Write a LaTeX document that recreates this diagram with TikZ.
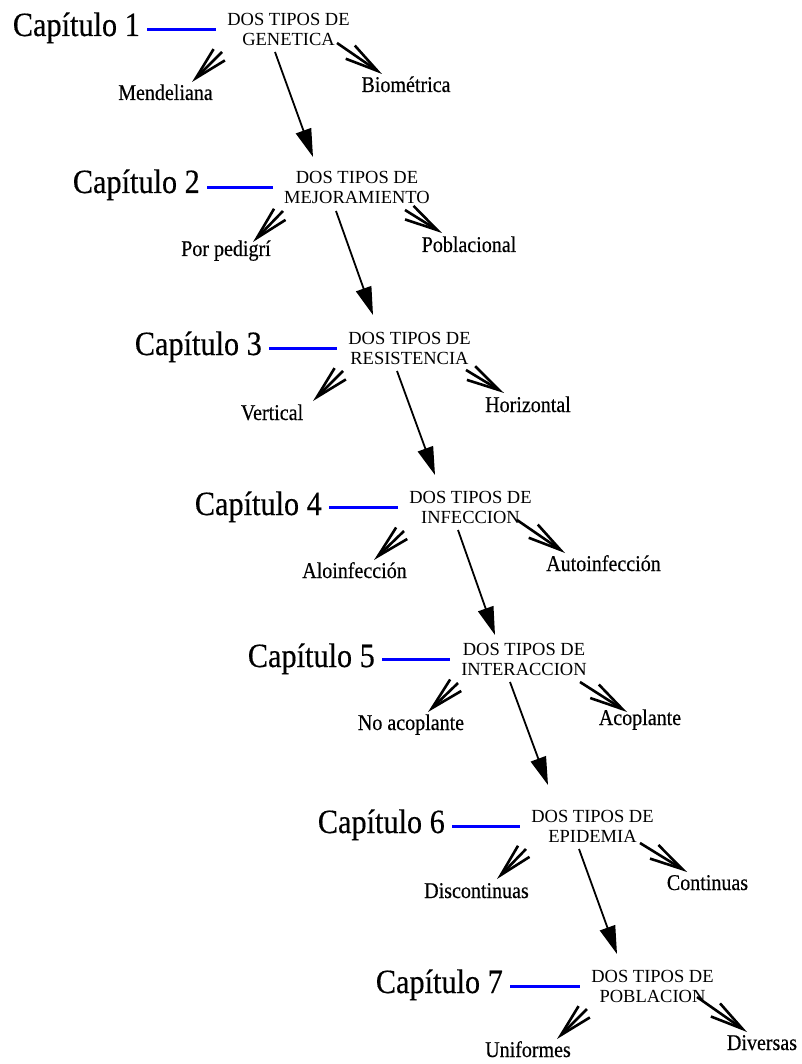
\documentclass[tikz,border=0pt]{standalone}
\usepackage{fontspec}
\setmainfont{Liberation Serif}
\newfontfamily\narrowserif[FakeStretch=0.89,FakeBold=0.4]{Liberation Serif}
\usetikzlibrary{arrows.meta}

\tikzset{
  chapter/.style={font=\narrowserif\fontsize{34}{40}\selectfont, inner sep=0pt, anchor=base east},
  topic/.style={font=\fontsize{18.5}{20.5}\selectfont, align=center, inner sep=0pt},
  kind/.style={font=\narrowserif\fontsize{22.5}{26}\selectfont, inner sep=0pt, anchor=base},
  chapline/.style={draw=blue, line width=2.5pt, shorten <=7pt, shorten >=11pt},
  nextlink/.style={line width=1.8pt, -{Triangle[length=28pt,width=16pt]}},
  branch/.style={line width=2.6pt, -{Straight Barb[length=33pt,width=16pt]}},
}

\begin{document}
\begin{tikzpicture}[x=1pt, y=-1pt]
\useasboundingbox (0,0) rectangle (801,1064);

% chapter 1
\node[chapter] (cap1) at (140,36) {Capítulo 1};
\node[topic] (t1) at (288.5,29.5) {DOS TIPOS DE\\GENETICA};
\node[kind] (k1a) at (165.5,100) {Mendeliana};
\node[kind] (k1b) at (406,92) {Biométrica};

% chapter 2
\node[chapter] (cap2) at (200,193) {Capítulo 2};
\node[topic] (t2) at (357,187.5) {DOS TIPOS DE\\MEJORAMIENTO};
\node[kind] (k2a) at (226,256) {Por pedigrí};
\node[kind] (k2b) at (469,252) {Poblacional};

% chapter 3
\node[chapter] (cap3) at (262,355) {Capítulo 3};
\node[topic] (t3) at (409.5,348.5) {DOS TIPOS DE\\RESISTENCIA};
\node[kind] (k3a) at (272,420) {Vertical};
\node[kind] (k3b) at (528,412) {Horizontal};

% chapter 4
\node[chapter] (cap4) at (322,515) {Capítulo 4};
\node[topic] (t4) at (470.5,507.5) {DOS TIPOS DE\\INFECCION};
\node[kind] (k4a) at (354.5,578) {Aloinfección};
\node[kind] (k4b) at (603.5,571) {Autoinfección};

% chapter 5
\node[chapter] (cap5) at (375,667) {Capítulo 5};
\node[topic] (t5) at (524,659.5) {DOS TIPOS DE\\INTERACCION};
\node[kind] (k5a) at (411,730) {No acoplante};
\node[kind] (k5b) at (640,725) {Acoplante};

% chapter 6
\node[chapter] (cap6) at (445,833) {Capítulo 6};
\node[topic] (t6) at (592.5,826.5) {DOS TIPOS DE\\EPIDEMIA};
\node[kind] (k6a) at (476.5,898) {Discontinuas};
\node[kind] (k6b) at (707.5,890) {Continuas};

% chapter 7
\node[chapter] (cap7) at (503,993) {Capítulo 7};
\node[topic] (t7) at (652.5,986.5) {DOS TIPOS DE\\POBLACION};
\node[kind] (k7a) at (528,1057) {Uniformes};
\node[kind] (k7b) at (762,1050) {Diversas};

% blue leaders from each chapter to its topic
\foreach \i in {1,...,7}
  \draw[chapline] (cap\i.east |- t\i.center) -- (t\i.west);

% the two kinds under each topic
\draw[branch] ([shift={(-66.5,22.5)}]t1.center) -- ([shift={(26.5,-18)}]k1a.base);
\draw[branch] ([shift={(48.5,13.5)}]t1.center) -- ([shift={(-24,-18)}]k1b.base);
\draw[branch] ([shift={(-74,23.5)}]t2.center) -- ([shift={(27,-14)}]k2a.base);
\draw[branch] ([shift={(48,22.5)}]t2.center) -- ([shift={(-27,-19)}]k2b.base);
\draw[branch] ([shift={(-66.5,22.5)}]t3.center) -- ([shift={(41,-19)}]k3a.base);
\draw[branch] ([shift={(56.5,21.5)}]t3.center) -- ([shift={(-24,-19)}]k3b.base);
\draw[branch] ([shift={(-66.5,23.5)}]t4.center) -- ([shift={(19.5,-18)}]k4a.base);
\draw[branch] ([shift={(46.5,12.5)}]t4.center) -- ([shift={(-38.5,-18)}]k4b.base);
\draw[branch] ([shift={(-66,23.5)}]t5.center) -- ([shift={(17,-18)}]k5a.base);
\draw[branch] ([shift={(56,22.5)}]t5.center) -- ([shift={(-13,-13)}]k5b.base);
\draw[branch] ([shift={(-66.5,22.5)}]t6.center) -- ([shift={(20.5,-19)}]k6a.base);
\draw[branch] ([shift={(47.5,16.5)}]t6.center) -- ([shift={(-20.5,-18)}]k6b.base);
\draw[branch] ([shift={(-65.5,22.5)}]t7.center) -- ([shift={(29,-18)}]k7a.base);
\draw[branch] ([shift={(44.5,10.5)}]t7.center) -- ([shift={(-15,-18)}]k7b.base);

% chain from one topic to the next
\draw[nextlink] ([shift={(-13.5,22.5)}]t1.center) -- ([shift={(-44,-30.5)}]t2.center);
\draw[nextlink] ([shift={(-21,23.5)}]t2.center) -- ([shift={(-36.5,-33.5)}]t3.center);
\draw[nextlink] ([shift={(-12.5,22.5)}]t3.center) -- ([shift={(-35.5,-32.5)}]t4.center);
\draw[nextlink] ([shift={(-12.5,22.5)}]t4.center) -- ([shift={(-29,-24.5)}]t5.center);
\draw[nextlink] ([shift={(-14,22.5)}]t5.center) -- ([shift={(-44.5,-41.5)}]t6.center);
\draw[nextlink] ([shift={(-13.5,22.5)}]t6.center) -- ([shift={(-35.5,-32.5)}]t7.center);
\end{tikzpicture}
\end{document}
